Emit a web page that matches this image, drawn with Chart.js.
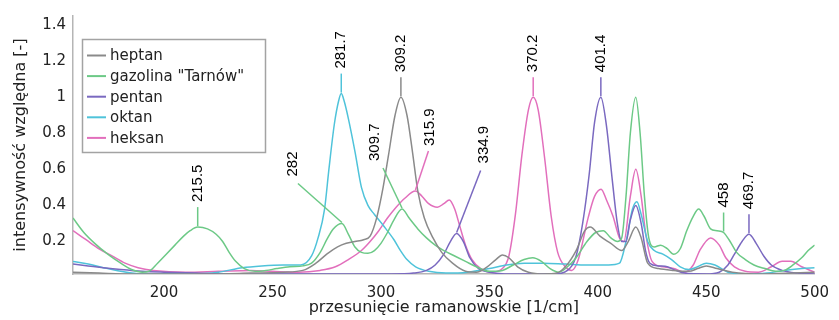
<!DOCTYPE html>
<html lang="pl">
<head>
<meta charset="utf-8">
<title>Widma ramanowskie</title>
<script src="https://cdn.jsdelivr.net/npm/chart.js@4/dist/chart.umd.min.js"></script>
<style>
  html, body { margin: 0; padding: 0; background: #ffffff; }
  #wrap { width: 839px; height: 320px; }
</style>
</head>
<body>
<div id="wrap"><canvas id="widmo" width="839" height="320"></canvas></div>
<script>
// Raman shift [1/cm] vs relative intensity, one [x, y] list per sample
const heptan = [
  [158, 0.03], [170, 0.025], [185, 0.02], [200, 0.02], [220, 0.02], [240, 0.025], [255, 0.03],
  [264, 0.04], [270, 0.08], [275, 0.13], [280, 0.17], [284, 0.19], [288, 0.2], [292, 0.21],
  [295, 0.23], [298, 0.33], [301, 0.5], [303.5, 0.68], [306.5, 0.9], [309.2, 1.0], [312, 0.9],
  [314.5, 0.7], [317, 0.48], [320, 0.33], [324, 0.22], [328, 0.14], [333, 0.08], [339, 0.035],
  [344, 0.03], [349, 0.06], [353, 0.1], [356, 0.125], [359, 0.11], [363, 0.06], [368, 0.03],
  [375, 0.02], [381, 0.025], [385, 0.06], [390, 0.15], [394, 0.26], [396.5, 0.28], [401, 0.23],
  [406, 0.19], [411, 0.15], [414, 0.2], [417.5, 0.28], [420, 0.22], [423, 0.08], [428, 0.05],
  [435, 0.04], [442, 0.035], [446, 0.05], [450, 0.065], [455, 0.05], [462, 0.03], [475, 0.02],
  [490, 0.025], [500, 0.03]
];
const gazolina = [
  [158, 0.33], [163, 0.25], [168, 0.19], [174, 0.13], [180, 0.08], [185, 0.045], [190, 0.03],
  [193, 0.035], [197, 0.08], [201, 0.13], [205, 0.18], [209, 0.23], [212, 0.26], [215.5, 0.28],
  [220, 0.27], [224, 0.24], [227, 0.2], [230, 0.14], [233, 0.09], [237, 0.05], [242, 0.035],
  [247, 0.04], [252, 0.05], [258, 0.06], [264, 0.065], [268, 0.08], [272, 0.14], [275, 0.21],
  [278, 0.27], [282, 0.3], [285, 0.24], [288, 0.17], [291, 0.14], [294, 0.135], [297, 0.15],
  [300, 0.19], [303, 0.25], [306, 0.32], [309.7, 0.38], [313, 0.33], [317, 0.27], [321, 0.22],
  [325, 0.18], [329, 0.15], [334, 0.12], [339, 0.09], [344, 0.06], [350, 0.035], [356, 0.04],
  [361, 0.07], [366, 0.1], [370, 0.11], [374, 0.09], [378, 0.05], [382, 0.03], [386, 0.06],
  [390, 0.11], [395, 0.2], [399, 0.25], [402.5, 0.26], [406, 0.22], [409, 0.2], [411, 0.22],
  [413, 0.45], [415, 0.8], [417.5, 1.0], [419.5, 0.8], [421.5, 0.45], [423.5, 0.22], [426, 0.17],
  [429, 0.18], [432, 0.16], [435, 0.13], [438, 0.16], [441, 0.26], [444, 0.34], [446.5, 0.38],
  [449, 0.34], [452, 0.27], [455, 0.26], [458, 0.25], [461, 0.2], [464, 0.14], [468, 0.1],
  [472, 0.07], [477, 0.05], [482, 0.035], [486, 0.04], [490, 0.07], [494, 0.11], [497, 0.15],
  [500, 0.18]
];
const pentan = [
  [158, 0.075], [165, 0.065], [172, 0.055], [180, 0.045], [190, 0.035], [200, 0.03], [215, 0.025],
  [230, 0.02], [250, 0.02], [270, 0.02], [290, 0.02], [305, 0.02], [315, 0.025], [321, 0.04],
  [325, 0.07], [329, 0.13], [332, 0.2], [334.9, 0.245], [338, 0.2], [341, 0.11], [345, 0.05],
  [350, 0.03], [360, 0.02], [370, 0.02], [380, 0.02], [386, 0.04], [390, 0.12], [393, 0.3],
  [396, 0.57], [398.5, 0.86], [401.4, 1.0], [404, 0.84], [406.5, 0.56], [409, 0.3], [411, 0.2],
  [413, 0.2], [415, 0.32], [417.5, 0.4], [420, 0.3], [422, 0.15], [424, 0.08], [428, 0.065],
  [432, 0.06], [436, 0.04], [440, 0.025], [450, 0.02], [456, 0.03], [460, 0.07], [463, 0.13],
  [466.5, 0.2], [469.7, 0.24], [473, 0.19], [476.5, 0.12], [480, 0.07], [485, 0.04], [492, 0.025],
  [500, 0.02]
];
const oktan = [
  [158, 0.09], [165, 0.075], [172, 0.055], [180, 0.035], [188, 0.022], [196, 0.018], [210, 0.018],
  [225, 0.03], [236, 0.055], [245, 0.065], [255, 0.07], [263, 0.07], [268, 0.12], [271, 0.22],
  [274, 0.38], [276, 0.6], [278.5, 0.85], [280.5, 0.98], [281.7, 1.02], [283, 0.98], [285, 0.88],
  [288, 0.7], [291, 0.5], [294, 0.4], [297, 0.35], [301, 0.29], [306, 0.21], [309, 0.15],
  [312, 0.1], [316, 0.06], [322, 0.035], [330, 0.025], [340, 0.03], [350, 0.05], [358, 0.07],
  [366, 0.08], [375, 0.08], [385, 0.075], [395, 0.07], [405, 0.07], [410, 0.08], [413, 0.2],
  [416, 0.38], [418, 0.42], [420, 0.35], [423, 0.2], [426, 0.15], [430, 0.13], [434, 0.1],
  [438, 0.06], [442, 0.045], [446, 0.06], [450, 0.08], [454, 0.07], [460, 0.03], [468, 0.02],
  [478, 0.025], [486, 0.04], [494, 0.05], [500, 0.055]
];
const heksan = [
  [158, 0.26], [164, 0.21], [170, 0.16], [176, 0.12], [182, 0.08], [188, 0.055], [195, 0.04],
  [210, 0.03], [225, 0.035], [240, 0.04], [250, 0.035], [262, 0.03], [272, 0.04], [279, 0.06],
  [285, 0.1], [291, 0.15], [295, 0.2], [299, 0.26], [303, 0.33], [307, 0.39], [311, 0.44],
  [315.9, 0.48], [319, 0.45], [322, 0.41], [326, 0.39], [329, 0.41], [331.5, 0.43], [334, 0.38],
  [336, 0.3], [339, 0.18], [342, 0.1], [346, 0.05], [351, 0.03], [356, 0.05], [359, 0.12],
  [362, 0.35], [365, 0.68], [368, 0.93], [370.2, 1.0], [372.5, 0.93], [375.5, 0.66], [378.5, 0.34],
  [381.5, 0.14], [385, 0.06], [388, 0.04], [391, 0.1], [395.5, 0.33], [398.5, 0.45], [401.5, 0.49],
  [404, 0.43], [407, 0.34], [410, 0.22], [412, 0.2], [415, 0.45], [417.5, 0.6], [420, 0.45],
  [422, 0.25], [425, 0.09], [430, 0.06], [435, 0.05], [440, 0.03], [444, 0.07], [447, 0.15],
  [452, 0.22], [456, 0.18], [459, 0.11], [463, 0.06], [468, 0.035], [474, 0.03], [480, 0.06],
  [485, 0.09], [489, 0.09], [494, 0.06], [500, 0.03]
];

const seriesNames = ['heptan', 'gazolina "Tarnów"', 'pentan', 'oktan', 'heksan'];
const xTicks = [200, 250, 300, 350, 400, 450, 500];
const yTicks = [0.2, 0.4, 0.6, 0.8, 1, 1.2, 1.4];

// Peak markers: the series they belong to and the Raman shift they name.
// "label"/"leader" are pixel offsets for labels pulled off to the side.
const peakLabels = [
  { series: 1, x: 215.5 },
  { series: 3, x: 281.7 },
  { series: 1, x: 282, label: [-49, -47], leader: [-44, -40] },
  { series: 0, x: 309.2 },
  { series: 1, x: 309.7, label: [-27, -48], leader: [-19, -41] },
  { series: 4, x: 315.9, label: [14, -45], leader: [13, -40] },
  { series: 2, x: 334.9, label: [27, -70], leader: [24, -63] },
  { series: 4, x: 370.2 },
  { series: 2, x: 401.4 },
  { series: 1, x: 458 },
  { series: 2, x: 469.7 }
];

const colors = ['#8a8a8a', '#6cc986', '#7a69c0', '#4fc3da', '#e26fbc'];
const seriesData = [heptan, gazolina, pentan, oktan, heksan];

Chart.defaults.font.family = '"DejaVu Sans", sans-serif';
Chart.defaults.color = '#222222';

const peakLabelPlugin = {
  id: 'peakLabels',
  afterDatasetsDraw(chart) {
    const { ctx, scales: { x, y } } = chart;
    ctx.save();
    ctx.font = '15px "Liberation Sans", Arial, sans-serif';
    ctx.lineWidth = 1.5;
    peakLabels.forEach(p => {
      const pt = seriesData[p.series].find(d => d[0] === p.x);
      const px = x.getPixelForValue(pt[0]);
      const py = y.getPixelForValue(pt[1]);
      let lx, ly, ex, ey;
      if (p.label) {
        lx = px + p.label[0]; ly = py + p.label[1];
        ex = px + p.leader[0]; ey = py + p.leader[1];
      } else {
        ex = px; ey = py - 20;
        lx = px; ly = py - 25;
      }
      ctx.strokeStyle = colors[p.series];
      ctx.beginPath();
      ctx.moveTo(px, py - 1);
      ctx.lineTo(ex, ey);
      ctx.stroke();
      ctx.save();
      ctx.translate(lx, ly);
      ctx.rotate(-Math.PI / 2);
      ctx.fillStyle = '#000000';
      ctx.textAlign = 'left';
      ctx.textBaseline = 'middle';
      ctx.fillText(String(p.x), 0, 0);
      ctx.restore();
    });
    ctx.restore();
  }
};

const boxLegendPlugin = {
  id: 'boxLegend',
  afterDraw(chart) {
    const { ctx } = chart;
    const left = 82.5, top = 39.5, w = 183, h = 113;
    ctx.save();
    ctx.fillStyle = '#ffffff';
    ctx.fillRect(left, top, w, h);
    ctx.strokeStyle = '#a3a3a3';
    ctx.lineWidth = 1.5;
    ctx.strokeRect(left, top, w, h);
    ctx.font = '15px "DejaVu Sans", sans-serif';
    ctx.textBaseline = 'middle';
    ctx.textAlign = 'left';
    chart.data.datasets.forEach((ds, i) => {
      const yy = top + 16 + i * 20.6;
      ctx.strokeStyle = ds.borderColor;
      ctx.lineWidth = 2;
      ctx.beginPath();
      ctx.moveTo(87, yy);
      ctx.lineTo(106, yy);
      ctx.stroke();
      ctx.fillStyle = '#222222';
      ctx.fillText(ds.label, 110, yy + 1);
    });
    ctx.restore();
  }
};

new Chart(document.getElementById('widmo'), {
  type: 'line',
  data: {
    datasets: seriesData.map((d, i) => ({
      label: seriesNames[i],
      data: d,
      borderColor: colors[i],
      borderWidth: 1.5,
      pointRadius: 0,
      fill: false,
      cubicInterpolationMode: 'monotone'
    }))
  },
  options: {
    responsive: false,
    animation: false,
    layout: { padding: { top: 11, right: 14, left: 0, bottom: 0 } },
    plugins: { legend: { display: false }, tooltip: { enabled: false } },
    scales: {
      x: {
        type: 'linear',
        min: 158,
        max: 500,
        afterBuildTicks: s => { s.ticks = xTicks.map(v => ({ value: v })); },
        afterFit: s => { s.height = 46; },
        grid: { display: false, drawTicks: false },
        border: { display: true, color: '#b5b5b5', width: 1.5 },
        ticks: { padding: 10, font: { size: 15 }, color: '#222222', maxRotation: 0 },
        title: {
          display: true,
          text: 'przesunięcie ramanowskie [1/cm]',
          font: { size: 16 },
          color: '#222222',
          padding: { top: 0, bottom: 3 }
        }
      },
      y: {
        type: 'linear',
        min: 0.02,
        max: 1.45,
        afterBuildTicks: s => { s.ticks = yTicks.map(v => ({ value: v })); },
        afterFit: s => { s.width = 73; },
        grid: { display: false, drawTicks: false },
        border: { display: true, color: '#b5b5b5', width: 1.5 },
        ticks: {
          padding: 7,
          font: { size: 15 },
          color: '#222222',
          callback: v => String(+v.toFixed(1))
        },
        title: {
          display: true,
          text: 'intensywność względna [-]',
          font: { size: 16 },
          color: '#222222',
          padding: { top: 11, bottom: 0 }
        }
      }
    }
  },
  plugins: [peakLabelPlugin, boxLegendPlugin]
});
</script>
</body>
</html>
